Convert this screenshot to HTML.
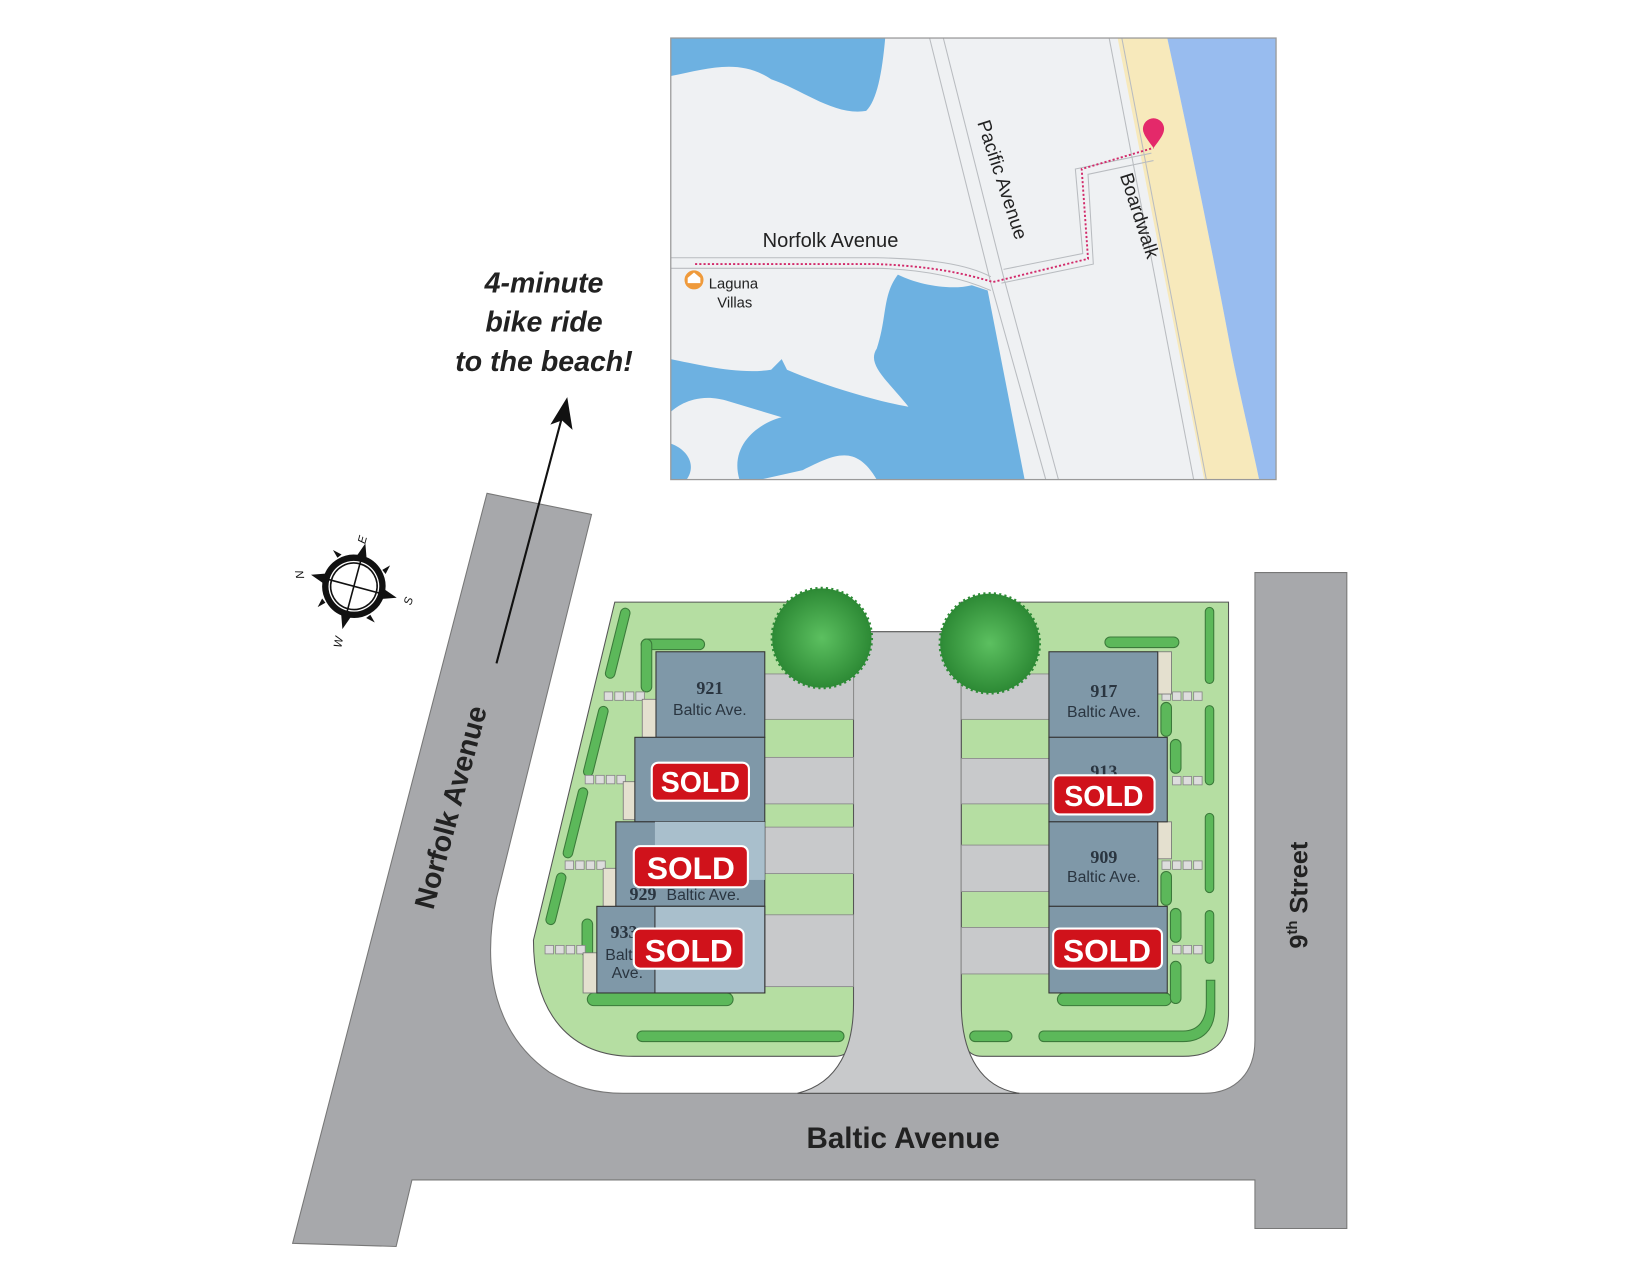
<!DOCTYPE html>
<html><head><meta charset="utf-8"><style>
html,body{margin:0;padding:0;background:#fff;}
svg{display:block;}
text{font-family:"Liberation Sans",sans-serif;}
.st{font-family:"Liberation Sans Narrow","Liberation Sans",sans-serif;font-weight:bold;fill:#222;}
.sold{font-weight:bold;fill:#fff;}
.num{font-family:"Liberation Serif",serif;font-weight:bold;fill:#2a3540;font-size:17px;}
.ba{font-family:"Liberation Sans Narrow","Liberation Sans",sans-serif;fill:#2a3540;font-size:15px;}
.mt{font-family:"Liberation Sans",sans-serif;fill:#222;}
</style></head><body>
<svg width="1650" height="1275" viewBox="0 0 1562 1207" preserveAspectRatio="none" xmlns="http://www.w3.org/2000/svg">
<defs>
<radialGradient id="tree" cx="50%" cy="50%" r="50%">
<stop offset="0" stop-color="#5cc060"/><stop offset="1" stop-color="#2d8a35"/></radialGradient>
</defs>
<rect width="1562" height="1207" fill="#fff"/>

<!-- MAP -->
<g>
<rect x="635" y="36" width="573" height="418" fill="#eff1f3"/>
<path d="M635,36 H838 C835,70 830,95 820,105 C790,110 760,85 730,75 C700,55 670,65 635,72 Z" fill="#6db1e1"/>
<path d="M850,260 C870,270 900,275 920,270 L935,275 L970,454 H830 C810,420 790,430 760,445 L720,454 H700 C690,420 720,400 740,395 L690,380 C660,370 640,385 635,390 V340 C660,345 700,355 730,350 L740,340 L745,350 C780,365 830,380 860,385 C840,360 820,345 830,330 C840,300 835,280 850,260 Z" fill="#6db1e1"/>
<path d="M635,420 C650,425 660,440 650,454 H635 Z" fill="#6db1e1"/>
<path d="M1058,36 H1105 C1130,150 1150,250 1165,330 C1175,380 1185,420 1192,454 H1140 Z" fill="#f7e9bb"/>
<path d="M1105,36 H1208 V454 H1192 C1185,420 1175,380 1165,330 C1150,250 1130,150 1105,36 Z" fill="#98bcef"/>
<g stroke="#b9bcc0" stroke-width="1" fill="none">
<path d="M880,36 L938,268 L990,454"/><path d="M893,36 L950,262 L1002,454"/>
<path d="M1050,36 L1130,454"/><path d="M1062,36 L1142,454"/>
<path d="M635,244 H830 C880,245 915,250 938,262"/><path d="M635,254 H830 C880,255 915,265 938,275"/>
<path d="M950,255 L1025,240 L1018,160 L1090,145"/><path d="M948,268 L1035,250 L1030,165 L1092,152"/>
</g>
<path d="M658,250 H830 C880,252 910,258 940,267 L1030,245 L1024,160 L1092,140" stroke="#d22a6a" stroke-width="1.8" stroke-dasharray="2,2" fill="none"/>
<path d="M1092,140 C1086,132 1082,127 1082,122 A10,10 0 0 1 1102,122 C1102,127 1098,132 1092,140 Z" fill="#e4296a"/>
<circle cx="657" cy="265" r="9" fill="#ef9a3b"/><path d="M651,268 V263 L657,258 L663,263 V268 Z" fill="#fff"/>
<text class="mt" style="font-size:19px" x="722" y="234">Norfolk Avenue</text>
<text class="mt" style="font-size:14px" x="671" y="273">Laguna</text>
<text class="mt" style="font-size:14px" x="679" y="291">Villas</text>
<text class="mt" style="font-size:18px" transform="translate(925,116) rotate(72)">Pacific Avenue</text>
<text class="mt" style="font-size:18px" transform="translate(1060,166) rotate(72)">Boardwalk</text>
<rect x="635" y="36" width="573" height="418" fill="none" stroke="#999" stroke-width="1.2"/>
</g>

<!-- Bike text -->
<g font-style="italic" font-weight="bold" fill="#222" text-anchor="middle" style="font-size:27px">
<text x="515" y="277">4-minute</text><text x="515" y="314">bike ride</text><text x="515" y="351">to the beach!</text>
</g>

<!-- compass -->
<g transform="translate(335,555) rotate(15)">
<circle r="27" fill="none" stroke="#111" stroke-width="6"/>
<circle r="22" fill="#fff" stroke="#111" stroke-width="1.5"/>
<g fill="#111"><path d="M0,-42 L5,-28 L-5,-28 Z"/><path d="M0,42 L5,28 L-5,28 Z"/><path d="M42,0 L28,5 L28,-5 Z"/><path d="M-42,0 L-28,5 L-28,-5 Z"/>
<path d="M22,-22 l6,-6 l-2,9 Z"/><path d="M-22,22 l-6,6 l2,-9 Z"/><path d="M22,22 l6,6 l-9,-2 Z"/><path d="M-22,-22 l-6,-6 l9,2 Z"/></g>
<line x1="0" y1="-30" x2="0" y2="30" stroke="#111" stroke-width="1.5"/><line x1="-30" y1="0" x2="30" y2="0" stroke="#111" stroke-width="1.5"/>
</g>
<g style="font-size:11px" font-style="italic" fill="#111">
<text x="340" y="512" transform="rotate(-75 345 510)">E</text><text x="278" y="548" transform="rotate(80 283 545)">N</text>
<text x="385" y="572" transform="rotate(-75 388 570)">S</text><text x="315" y="612" transform="rotate(-80 320 608)">W</text>
</g>

<!-- ROADS -->
<path d="M461,467 L560,487 L470,850 C455,920 470,980 520,1015 C545,1030 565,1035 590,1035 H1140 C1170,1035 1188,1015 1188,985 V542 H1275 V1163 H1188 V1117 H390 L375,1180 L277,1177 Z" fill="#a7a8ab" stroke="#777" stroke-width="1"/>
<!-- arrow -->
<line x1="470" y1="628" x2="532" y2="395" stroke="#111" stroke-width="2"/>
<path d="M537,376 L542,407 L532,398 L521,402 Z" fill="#111"/>
<!-- lots -->
<path d="M582,570 H808 V960 C808,990 805,1000 790,1000 H600 C540,1000 505,960 505,890 Z" fill="#b5dea2" stroke="#555" stroke-width="1"/>
<path d="M910,570 H1163 V960 C1163,985 1150,1000 1120,1000 H930 C915,1000 910,990 910,960 Z" fill="#b5dea2" stroke="#555" stroke-width="1"/>
<path d="M808,598 H910 V950 C910,1000 930,1030 965,1035 H755 C795,1025 808,990 808,950 Z" fill="#c8c9cb" stroke="#555" stroke-width="1"/>
<!-- driveway pads -->
<g fill="#c8c9cb" stroke="#888" stroke-width="0.8">
<rect x="724" y="638" width="84" height="43"/><rect x="724" y="717" width="84" height="44"/><rect x="724" y="783" width="84" height="44"/><rect x="724" y="866" width="84" height="68"/>
<rect x="910" y="638" width="83" height="43"/><rect x="910" y="718" width="83" height="43"/><rect x="910" y="800" width="83" height="44"/><rect x="910" y="878" width="83" height="44"/>
</g>
<!-- hedges -->
<g fill="#5cb85a" stroke="#3b7a3a" stroke-width="1">
<rect x="580" y="575" width="9" height="68" rx="4.5" transform="rotate(14 585 610)"/>
<rect x="560" y="668" width="9" height="68" rx="4.5" transform="rotate(14 565 700)"/>
<rect x="540" y="745" width="9" height="68" rx="4.5" transform="rotate(14 545 780)"/>
<rect x="522" y="826" width="9" height="50" rx="4.5" transform="rotate(14 527 850)"/>
<rect x="603" y="976" width="196" height="10" rx="5"/><rect x="918" y="976" width="40" height="10" rx="5"/>
<path d="M988,976 H1120 C1135,976 1142,965 1142,950 V928 H1150 V955 C1150,975 1138,986 1120,986 H988 C982,986 982,976 988,976 Z"/>
<rect x="1141" y="575" width="8" height="72" rx="4"/><rect x="1141" y="668" width="8" height="75" rx="4"/><rect x="1141" y="770" width="8" height="75" rx="4"/><rect x="1141" y="862" width="8" height="50" rx="4"/>
<rect x="607" y="605" width="60" height="10" rx="5"/><rect x="607" y="605" width="10" height="50" rx="5"/>
<rect x="1046" y="603" width="70" height="10" rx="5"/>
<rect x="556" y="940" width="138" height="12" rx="6"/><rect x="551" y="870" width="10" height="36" rx="5"/>
<rect x="1001" y="940" width="108" height="12" rx="6"/>
<rect x="1099" y="665" width="10" height="32" rx="5"/><rect x="1108" y="700" width="10" height="32" rx="5"/><rect x="1099" y="825" width="10" height="32" rx="5"/><rect x="1108" y="860" width="10" height="32" rx="5"/><rect x="1108" y="910" width="10" height="40" rx="5"/>
</g>
<!-- pavers -->
<g fill="#ddd" stroke="#888" stroke-width="0.8">
<rect x="572" y="655" width="8" height="8"/><rect x="582" y="655" width="8" height="8"/><rect x="592" y="655" width="8" height="8"/><rect x="602" y="655" width="8" height="8"/>
<rect x="554" y="734" width="8" height="8"/><rect x="564" y="734" width="8" height="8"/><rect x="574" y="734" width="8" height="8"/><rect x="584" y="734" width="8" height="8"/>
<rect x="535" y="815" width="8" height="8"/><rect x="545" y="815" width="8" height="8"/><rect x="555" y="815" width="8" height="8"/><rect x="565" y="815" width="8" height="8"/>
<rect x="516" y="895" width="8" height="8"/><rect x="526" y="895" width="8" height="8"/><rect x="536" y="895" width="8" height="8"/><rect x="546" y="895" width="8" height="8"/>
<rect x="1100" y="655" width="8" height="8"/><rect x="1110" y="655" width="8" height="8"/><rect x="1120" y="655" width="8" height="8"/><rect x="1130" y="655" width="8" height="8"/>
<rect x="1110" y="735" width="8" height="8"/><rect x="1120" y="735" width="8" height="8"/><rect x="1130" y="735" width="8" height="8"/>
<rect x="1100" y="815" width="8" height="8"/><rect x="1110" y="815" width="8" height="8"/><rect x="1120" y="815" width="8" height="8"/><rect x="1130" y="815" width="8" height="8"/>
<rect x="1110" y="895" width="8" height="8"/><rect x="1120" y="895" width="8" height="8"/><rect x="1130" y="895" width="8" height="8"/>
</g>
<!-- patios -->
<g fill="#e4e0cf" stroke="#777" stroke-width="0.8">
<rect x="608" y="662" width="13" height="36"/><rect x="590" y="740" width="11" height="36"/><rect x="571" y="822" width="12" height="36"/><rect x="552" y="902" width="13" height="38"/>
<rect x="1096" y="617" width="13" height="40"/><rect x="1096" y="778" width="13" height="35"/>
</g>
<!-- houses -->
<g stroke="#333" stroke-width="1">
<rect x="621" y="617" width="103" height="81" fill="#7f98a8"/>
<rect x="601" y="698" width="123" height="80" fill="#7f98a8"/>
<rect x="583" y="778" width="141" height="80" fill="#7f98a8"/><rect x="620" y="778" width="104" height="55" fill="#a9bfcc" stroke="none"/>
<rect x="565" y="858" width="159" height="82" fill="#7f98a8"/><rect x="620" y="858" width="104" height="82" fill="#a9bfcc"/>
<rect x="993" y="617" width="103" height="81" fill="#7f98a8"/>
<rect x="993" y="698" width="112" height="80" fill="#7f98a8"/>
<rect x="993" y="778" width="103" height="80" fill="#7f98a8"/>
<rect x="993" y="858" width="112" height="82" fill="#7f98a8"/>
</g>
<text class="num" x="672" y="657" text-anchor="middle">921</text><text class="ba" x="672" y="677" text-anchor="middle">Baltic Ave.</text>
<text class="num" x="1045" y="660" text-anchor="middle">917</text><text class="ba" x="1045" y="679" text-anchor="middle">Baltic Ave.</text>
<text class="num" x="1045" y="736" text-anchor="middle">913</text>
<text class="num" x="1045" y="817" text-anchor="middle">909</text><text class="ba" x="1045" y="835" text-anchor="middle">Baltic Ave.</text>
<text class="num" x="596" y="852">929</text><text class="ba" x="631" y="852">Baltic Ave.</text>
<text class="num" x="578" y="888">933</text><text class="ba" x="573" y="909">Balt</text><text class="ba" x="579" y="926">Ave.</text>
<!-- trees -->
<g fill="url(#tree)" stroke="#2d8a35" stroke-width="3" stroke-dasharray="2,3">
<circle cx="778" cy="604" r="47"/><circle cx="937" cy="609" r="47"/>
</g>
<!-- SOLD -->
<g fill="#d0121b" stroke="#fff" stroke-width="2">
<rect x="617" y="722" width="92" height="36" rx="6"/><rect x="600" y="801" width="108" height="39" rx="6"/><rect x="600" y="879" width="104" height="38" rx="6"/>
<rect x="997" y="734" width="96" height="37" rx="6"/><rect x="997" y="879" width="103" height="38" rx="6"/>
</g>
<text class="sold" style="font-size:27px" x="663" y="750" text-anchor="middle">SOLD</text>
<text class="sold" style="font-size:30px" x="654" y="832" text-anchor="middle">SOLD</text>
<text class="sold" style="font-size:30px" x="652" y="910" text-anchor="middle">SOLD</text>
<text class="sold" style="font-size:27px" x="1045" y="763" text-anchor="middle">SOLD</text>
<text class="sold" style="font-size:30px" x="1048" y="910" text-anchor="middle">SOLD</text>
<!-- street names -->
<text class="st" style="font-size:28px" x="855" y="1087" text-anchor="middle">Baltic Avenue</text>
<text class="st" style="font-size:27px" transform="translate(410,862) rotate(-75)">Norfolk Avenue</text>
<text class="st" style="font-size:24px" transform="translate(1238,898) rotate(-90)">9<tspan style="font-size:14px" dy="-10">th</tspan><tspan dy="10"> Street</tspan></text>
</svg>
</body></html>
